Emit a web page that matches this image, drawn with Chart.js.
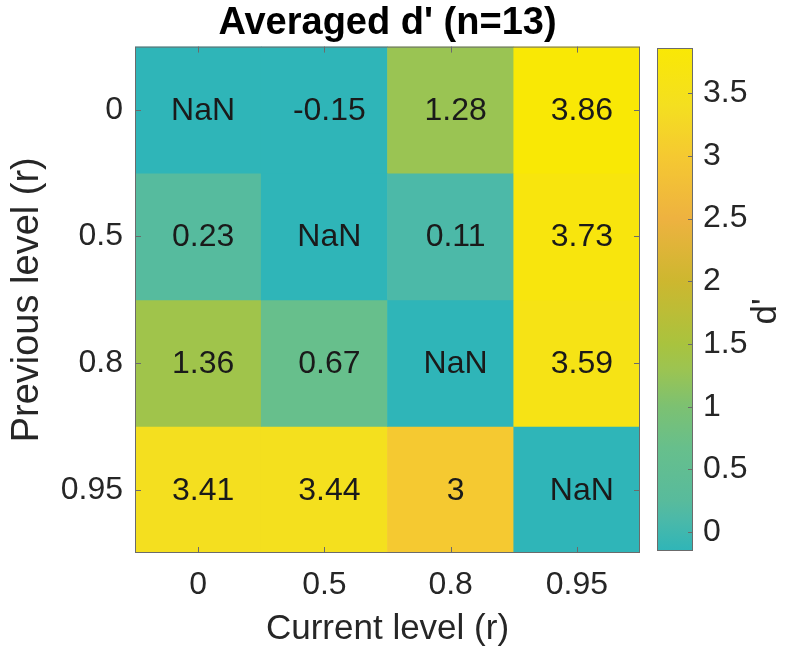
<!DOCTYPE html>
<html>
<head>
<meta charset="utf-8">
<script src="https://cdn.jsdelivr.net/npm/chart.js@4/dist/chart.umd.min.js"></script>
<style>
    html, body { margin: 0; padding: 0; background: #fff; }
    #heat { position: absolute; left: 0; top: 0; }
    #cbar { position: absolute; left: 640px; top: 0; }
</style>
</head>
<body>
<canvas id="heat" width="650" height="656"></canvas>
<canvas id="cbar" width="148" height="656"></canvas>
<script>
// axis categories
const currentLevels = ['0', '0.5', '0.8', '0.95'];
const previousLevels = ['0', '0.5', '0.8', '0.95'];

// averaged d' per previous level (rows), columns = current level
const prev0 = [NaN, -0.15, 1.28, 3.86];
const prev05 = [0.23, NaN, 0.11, 3.73];
const prev08 = [1.36, 0.67, NaN, 3.59];
const prev095 = [3.41, 3.44, 3, NaN];
const rows = [prev0, prev05, prev08, prev095];

const colorbarTicks = [0, 0.5, 1, 1.5, 2, 2.5, 3, 3.5];

const FONT = "'Liberation Sans', Arial, Helvetica, sans-serif";
const TEXT = '#262626';
const EDGE = '#6b6b6b';

const allVals = rows.flat().filter(v => !isNaN(v));
const cmin = Math.min(...allVals);
const cmax = Math.max(...allVals);

// colormap stops (value, colour)
const cmap = [
    [-0.15, '#2fb5b8'], [0.11, '#4cb9a8'], [0.25, '#58bb9c'], [0.67, '#67bf8c'],
    [1.0, '#7cc172'], [1.3, '#9cc451'], [1.5, '#a9c33e'], [2.0, '#cdb72f'],
    [2.5, '#eeb240'], [3.0, '#f5c931'], [3.4, '#f4df20'], [3.86, '#f9e805']
];

function hexToRgb(h) {
    return [parseInt(h.substr(1, 2), 16), parseInt(h.substr(3, 2), 16), parseInt(h.substr(5, 2), 16)];
}

function colorFor(v) {
    if (isNaN(v)) v = cmin; // NaN cells take the lowest colour
    if (v <= cmap[0][0]) return cmap[0][1];
    for (let i = 1; i < cmap.length; i++) {
        if (v <= cmap[i][0]) {
            const t = (v - cmap[i - 1][0]) / (cmap[i][0] - cmap[i - 1][0]);
            const a = hexToRgb(cmap[i - 1][1]), b = hexToRgb(cmap[i][1]);
            const c = a.map((x, k) => Math.round(x + (b[k] - x) * t));
            return 'rgb(' + c.join(',') + ')';
        }
    }
    return cmap[cmap.length - 1][1];
}

function fmt(v) {
    return isNaN(v) ? 'NaN' : String(v);
}

// cell labels, frame and inward tick marks
const heatExtras = {
    id: 'heatExtras',
    afterDatasetsDraw(chart) {
        const ctx = chart.ctx;
        const area = chart.chartArea;
        ctx.save();
        ctx.font = '32px ' + FONT;
        ctx.fillStyle = '#1a1a1a';
        ctx.textAlign = 'center';
        ctx.textBaseline = 'middle';
        chart.data.datasets.forEach((ds, i) => {
            chart.getDatasetMeta(i).data.forEach((bar, j) => {
                ctx.fillText(fmt(rows[i][j]), bar.x + 5, (bar.y + bar.base) / 2 + 1);
            });
        });

        ctx.strokeStyle = EDGE;
        ctx.lineWidth = 1;
        ctx.strokeRect(area.left + 0.5, area.top + 0.5, area.right - area.left - 1, area.bottom - area.top - 1);
        ctx.beginPath();
        chart.scales.x.ticks.forEach((t, i) => {
            const x = Math.round(chart.scales.x.getPixelForTick(i)) + 0.5;
            ctx.moveTo(x, area.bottom); ctx.lineTo(x, area.bottom - 6);
            ctx.moveTo(x, area.top); ctx.lineTo(x, area.top + 6);
        });
        chart.scales.y.ticks.forEach(t => {
            const y = Math.round(chart.scales.y.getPixelForValue(t.value)) + 0.5;
            ctx.moveTo(area.left, y); ctx.lineTo(area.left + 6, y);
            ctx.moveTo(area.right, y); ctx.lineTo(area.right - 6, y);
        });
        ctx.stroke();
        ctx.restore();
    }
};

new Chart(document.getElementById('heat'), {
    type: 'bar',
    data: {
        labels: currentLevels,
        datasets: rows.map((vals, i) => ({
            label: previousLevels[i],
            data: vals.map(() => 1),
            backgroundColor: vals.map(colorFor),
            borderWidth: 0,
            barPercentage: 1,
            categoryPercentage: 1
        }))
    },
    options: {
        responsive: false,
        animation: false,
        layout: { padding: { left: 0, right: 10, top: 0, bottom: 0 } },
        plugins: {
            legend: { display: false },
            tooltip: { enabled: false },
            title: {
                display: true,
                fullSize: false, // centre over the plot, not the canvas
                text: "Averaged d' (n=13)",
                color: '#000',
                font: { family: FONT, size: 38, weight: 'bold' },
                padding: { top: 1, bottom: 0 }
            }
        },
        scales: {
            x: {
                stacked: true,
                grid: { display: false, drawTicks: false },
                border: { display: false },
                ticks: { color: TEXT, font: { family: FONT, size: 32 }, padding: 13 },
                title: {
                    display: true,
                    text: 'Current level (r)',
                    color: TEXT,
                    font: { family: FONT, size: 35 },
                    padding: { top: 0, bottom: 6 }
                },
                afterFit: s => { s.height = 103; }
            },
            y: {
                stacked: true,
                reverse: true,
                min: 0,
                max: 4,
                grid: { display: false, drawTicks: false },
                border: { display: false },
                afterBuildTicks: s => { s.ticks = previousLevels.map((_, i) => ({ value: i + 0.5 })); },
                ticks: {
                    color: TEXT,
                    font: { family: FONT, size: 32 },
                    padding: 12,
                    callback: (v, i) => previousLevels[i]
                },
                title: {
                    display: true,
                    text: 'Previous level (r)',
                    color: TEXT,
                    font: { family: FONT, size: 38 },
                    padding: { top: 5, bottom: 0 }
                },
                afterFit: s => { s.width = 135; }
            }
        }
    },
    plugins: [heatExtras]
});

// colorbar frame, ticks and its rotated label
const cbarExtras = {
    id: 'cbarExtras',
    afterDatasetsDraw(chart) {
        const ctx = chart.ctx;
        const area = chart.chartArea;
        ctx.save();
        ctx.strokeStyle = EDGE;
        ctx.lineWidth = 1;
        ctx.strokeRect(area.left + 0.5, area.top + 0.5, area.right - area.left - 1, area.bottom - area.top - 1);
        ctx.beginPath();
        chart.scales.y.ticks.forEach(t => {
            const y = Math.round(chart.scales.y.getPixelForValue(t.value)) + 0.5;
            ctx.moveTo(area.right, y); ctx.lineTo(area.right - 5, y);
        });
        ctx.stroke();
        ctx.translate(126, (area.top + area.bottom) / 2 + 12);
        ctx.rotate(-Math.PI / 2);
        ctx.font = '35px ' + FONT;
        ctx.fillStyle = TEXT;
        ctx.textAlign = 'center';
        ctx.textBaseline = 'middle';
        ctx.fillText("d'", 0, 0);
        ctx.restore();
    }
};

new Chart(document.getElementById('cbar'), {
    type: 'bar',
    data: {
        labels: [''],
        datasets: [{
            data: [[cmin, cmax]],
            backgroundColor: function(context) {
                const chart = context.chart;
                const area = chart.chartArea;
                if (!area) return cmap[0][1];
                const y = chart.scales.y;
                const g = chart.ctx.createLinearGradient(0, y.getPixelForValue(cmin), 0, y.getPixelForValue(cmax));
                cmap.forEach(([v, c]) => g.addColorStop((v - cmin) / (cmax - cmin), c));
                return g;
            },
            borderWidth: 0,
            barPercentage: 1,
            categoryPercentage: 1
        }]
    },
    options: {
        responsive: false,
        animation: false,
        layout: { padding: { left: 17, right: 0, top: 48, bottom: 105 } },
        plugins: { legend: { display: false }, tooltip: { enabled: false } },
        scales: {
            x: { display: false },
            y: {
                position: 'right',
                min: cmin,
                max: cmax,
                grid: { display: false, drawTicks: false },
                border: { display: false },
                afterBuildTicks: s => { s.ticks = colorbarTicks.map(v => ({ value: v })); },
                ticks: {
                    color: TEXT,
                    font: { family: FONT, size: 32 },
                    padding: 10,
                    callback: v => String(v)
                },
                afterFit: s => { s.width = 95; }
            }
        }
    },
    plugins: [cbarExtras]
});
</script>
</body>
</html>
